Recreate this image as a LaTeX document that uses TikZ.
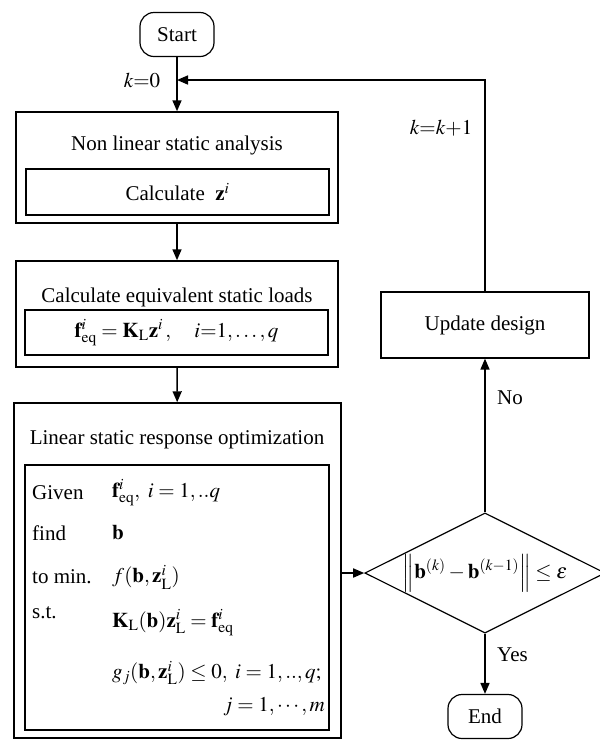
\documentclass[tikz,border=0pt]{standalone}
\usepackage{mathptmx}
\usepackage{fontspec}
\setmainfont{Liberation Serif}
\usetikzlibrary{arrows.meta,shapes.geometric}
\tikzset{
  frame/.style    = {draw, line width=1.5pt, inner sep=0pt},
  inbox/.style    = {draw, line width=1.3pt, inner sep=0pt},
  term/.style     = {draw, line width=1.2pt, rounded corners=14pt, inner sep=0pt,
                     minimum width=74pt, minimum height=44pt},
  decision/.style = {draw, line width=1.2pt, diamond, aspect=2, inner sep=0pt,
                     minimum width=230pt, minimum height=114pt},
  row/.style      = {anchor=west, inner sep=0pt},
  flow/.style     = {-{Triangle[length=11pt,width=9pt]}, line width=1.6pt},
}

\begin{document}
\begin{tikzpicture}[x=1pt,y=-1pt,font=\fontsize{21}{25}\selectfont]
  \useasboundingbox (0,0) rectangle (600,740);
  % start and nonlinear analysis
  \node[term] (start) at (177,34.5) {Start};
  \node[frame,minimum width=322pt,minimum height=111pt] (nla) at (177,167.5) {};
  \node (nlatitle) at (177,145) {Non linear static analysis};
  \node[inbox,minimum width=303pt,minimum height=46pt] (calcz) at (177.5,192)
       {Calculate \ $\mathbf{z}^{i}$};
  % equivalent static loads
  \node[frame,minimum width=322pt,minimum height=106pt] (esl) at (177,314) {};
  \node (esltitle) at (177,297) {Calculate equivalent static loads};
  \node[inbox,minimum width=303pt,minimum height=45pt] (feq) at (176.5,332.5)
       {$\mathbf{f}^{i}_{\mathrm{eq}}=\mathbf{K}_{\mathrm{L}}\mathbf{z}^{i}\,,\quad i{=}1,\ldots,q$};
  % linear response optimization
  \node[frame,minimum width=327pt,minimum height=335pt] (lso) at (177.5,570.5) {};
  \node (lsotitle) at (177,440) {Linear static response optimization};
  \node[inbox,minimum width=304pt,minimum height=265pt] (opt) at (177,597.5) {};
  \foreach \y/\t in {493/Given,533/find,577/to min.,613/s.t.}
     {\node[row] (lab\y) at (32,\y) {\t};}
  \node[row] (given) at (112,493) {$\mathbf{f}^{i}_{\mathrm{eq}},\ i=1,..q$};
  \node[row] (find) at (112,533) {$\mathbf{b}$};
  \node[row] (obj) at (112,577) {$f(\mathbf{b},\mathbf{z}^{i}_{\mathrm{L}})$};
  \node[row] (equ) at (112,623)
       {$\mathbf{K}_{\mathrm{L}}(\mathbf{b})\mathbf{z}^{i}_{\mathrm{L}}=\mathbf{f}^{i}_{\mathrm{eq}}$};
  \node[row] (cons) at (112,673) {$g_{j}(\mathbf{b},\mathbf{z}^{i}_{\mathrm{L}})\le 0,\ i=1,..,q;$};
  \node[anchor=east,inner sep=0pt] (jrange) at (325,707) {$j=1,\cdots,m$};
  % convergence check and update
  \node[decision] (check) at (485,573)
       {$\left\|\mathbf{b}^{(k)}-\mathbf{b}^{(k-1)}\right\|\le\varepsilon$};
  \node[draw,line width=1.2pt,minimum width=208pt,minimum height=66pt] (update) at (485,325)
       {Update design};
  \node[term] (stop) at (485,716.5) {End};
  \coordinate (join) at (177,80);
  % labels
  \node (kzero) at (142,80) {$k{=}0$};
  \node (kinc) at (441,128) {$k{=}k{+}1$};
  \node[row] (no) at (497,398) {No};
  \node[row] (yes) at (497,655) {Yes};
  % connectors
  \draw[flow] (start) -- (nla);
  \draw[flow] (nla) -- (esl);
  \draw[flow] (esl) -- (lso);
  \draw[flow] (lso.east |- check.west) -- (check.west);
  \draw[flow] (check) -- (stop);
  \draw[flow] (check) -- (update);
  \draw[flow] (update) |- (join);
\end{tikzpicture}
\end{document}
